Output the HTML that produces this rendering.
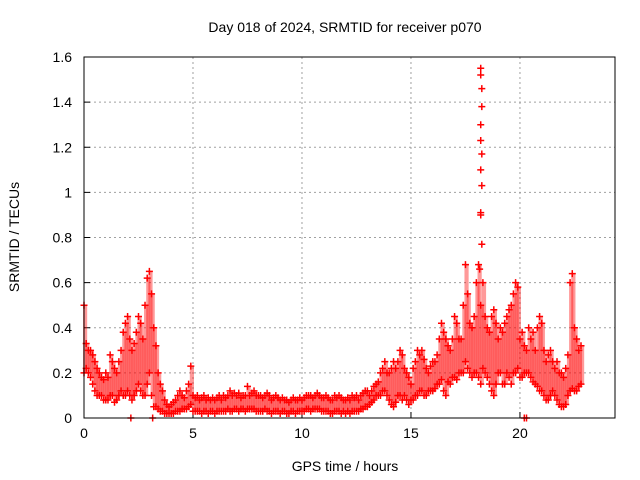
<!DOCTYPE html>
<html><head><meta charset="utf-8"><style>
body{margin:0;background:#fff}
svg{display:block;font-family:"Liberation Sans",sans-serif}
</style></head><body>
<svg id="c" width="640" height="480" xmlns="http://www.w3.org/2000/svg">
<text x="345" y="32" font-size="14" text-anchor="middle">Day 018 of 2024, SRMTID for receiver p070</text>
<text x="345" y="471" font-size="14" text-anchor="middle">GPS time / hours</text>
<text transform="translate(19,237) rotate(-90)" font-size="14" text-anchor="middle">SRMTID / TECUs</text>
<g id="grid"></g>
<g id="ticks"></g>
<g id="marks"></g>
<rect x="84" y="57" width="531" height="361" fill="none" stroke="#000" stroke-width="1"/>
</svg>
<script>
const xTicks=[0,5,10,15,20];
const yTicks=[0,0.2,0.4,0.6,0.8,1,1.2,1.4,1.6];
const yTickLabels=["0","0.2","0.4","0.6","0.8","1","1.2","1.4","1.6"];
const tStart=0, tStep=0.1;
const hiVals=[.5,.33,.3,.3,.28,.25,.22,.2,.18,.17,
.2,.18,.28,.25,.22,.2,.25,.3,.38,.42,
.45,.35,.3,.33,.38,.45,.42,.35,.5,.62,
.65,.55,.4,.32,.2,.15,.12,.08,.06,.05,
.06,.07,.08,.1,.12,.1,.09,.12,.15,.23,
.1,.09,.1,.08,.09,.1,.08,.09,.08,.09,
.08,.09,.1,.08,.1,.09,.1,.12,.1,.11,
.1,.11,.09,.1,.1,.14,.1,.11,.12,.1,
.1,.1,.09,.1,.11,.1,.08,.09,.1,.09,
.08,.09,.08,.08,.07,.08,.09,.08,.08,.09,
.08,.09,.1,.1,.1,.09,.1,.11,.1,.09,
.09,.1,.09,.08,.08,.1,.09,.1,.09,.08,
.08,.09,.08,.1,.09,.1,.08,.1,.11,.12,
.12,.1,.12,.14,.15,.16,.2,.22,.25,.2,
.2,.22,.25,.22,.25,.3,.28,.22,.2,.18,
.15,.22,.25,.3,.28,.3,.26,.22,.2,.23,
.25,.25,.28,.35,.42,.38,.35,.32,.3,.35,
.45,.42,.35,.35,.5,.68,.55,.42,.4,.45,
.6,.68,.5,.6,.45,.4,.38,.45,.48,.42,
.35,.4,.38,.42,.45,.48,.5,.55,.6,.58,
.35,.38,.32,.3,.4,.35,.38,.3,.4,.45,
.42,.3,.25,.28,.3,.25,.22,.25,.2,.2,
.18,.22,.28,.6,.64,.4,.35,.3,.32];
const loVals=[.2,.22,.2,.18,.15,.12,.1,.1,.1,.08,
.08,.08,.1,.1,.07,.08,.1,.12,.1,.1,
.12,.1,.08,.1,.12,.15,.12,.1,.1,.15,
.2,.1,.05,.05,.04,.03,.03,.02,.02,.02,
.02,.02,.03,.03,.03,.04,.04,.04,.05,.06,
.03,.03,.03,.03,.02,.03,.03,.02,.03,.03,
.02,.03,.03,.03,.03,.03,.04,.03,.03,.04,
.04,.03,.04,.04,.03,.04,.04,.04,.04,.03,
.03,.03,.03,.04,.03,.03,.02,.03,.03,.03,
.02,.03,.03,.02,.02,.03,.03,.02,.03,.03,
.03,.03,.04,.04,.03,.04,.04,.04,.04,.03,
.03,.03,.03,.02,.02,.03,.03,.03,.02,.03,
.02,.03,.02,.03,.03,.03,.03,.04,.04,.05,
.05,.06,.07,.08,.1,.1,.1,.12,.12,.1,
.08,.06,.05,.07,.1,.1,.08,.1,.08,.06,
.08,.08,.1,.1,.12,.12,.1,.1,.12,.12,
.12,.13,.15,.15,.17,.12,.1,.16,.15,.18,
.18,.17,.2,.2,.2,.25,.22,.2,.18,.2,
.2,.18,.15,.22,.2,.18,.15,.12,.1,.15,
.2,.2,.15,.15,.2,.18,.15,.2,.2,.22,
.18,.18,.2,.2,.2,.18,.16,.15,.14,.12,
.12,.1,.08,.08,.1,.12,.1,.08,.06,.05,
.05,.06,.1,.12,.13,.12,.12,.14,.15];
const spikeT=[18.2,18.2,18.25,18.25,18.2,18.2,18.25,18.2,18.25,18.2,18.25,18.15,18.2];
const spikeV=[1.55,1.52,1.46,1.38,1.3,1.23,1.17,1.1,1.03,0.9,0.77,0.66,0.91];
const zeroT=[2.15,3.15,20.2,20.3];
const zeroV=[0,0,0,0];

const X0=84,X1=615,Y0=418,Y1=57,XMAX=24.36,YMAX=1.6;
const sx=t=>X0+(t/XMAX)*(X1-X0);
const sy=v=>Y0-(v/YMAX)*(Y0-Y1);
const NS="http://www.w3.org/2000/svg";
function mk(tag,attrs,parent){const e=document.createElementNS(NS,tag);for(const k in attrs)e.setAttribute(k,attrs[k]);parent.appendChild(e);return e;}
const grid=document.getElementById('grid'),ticks=document.getElementById('ticks'),marks=document.getElementById('marks');
xTicks.forEach(t=>{
  const x=sx(t);
  if(t>0){const g=mk('line',{x1:x,x2:x,y1:Y1,y2:Y0,stroke:'#a0a0a0','stroke-dasharray':'2,3'},grid);
  
  }
  const l=mk('line',{x1:x,x2:x,y1:Y0,y2:Y0-6,stroke:'#000'},ticks);
  
  
  const tx=mk('text',{x:x,y:Y0+20,'font-size':14,'text-anchor':'middle'},ticks);tx.textContent=t;
  
  
});
yTicks.forEach((v,i)=>{
  const y=sy(v);
  if(v>0&&v<YMAX){const g=mk('line',{x1:X0,x2:X1,y1:y,y2:y,stroke:'#a0a0a0','stroke-dasharray':'2,3'},grid);
  
  }
  const l=mk('line',{x1:X0,x2:X0+6,y1:y,y2:y,stroke:'#000'},ticks);
  
  
  const tx=mk('text',{x:X0-12,y:y+5,'font-size':14,'text-anchor':'end'},ticks);tx.textContent=yTickLabels[i];
  
  
});
function plus(t,v,col){
  const x=sx(t),y=sy(v);
  const p=mk('path',{d:`M${x-3.5},${y}H${x+3.5}M${x},${y-3.5}V${y+3.5}`,stroke:col,'stroke-width':1.5,fill:'none'},marks);
  
  
}
hiVals.forEach((h,i)=>{
  const t=tStart+i*tStep,l=loVals[i];
  const b=mk('rect',{x:sx(t)-1,y:sy(h),width:(sx(tStep)-sx(0))+2,height:Math.max(0,sy(l)-sy(h)),fill:'#ff0000',opacity:0.4},marks);
  
  
  plus(t,h,'#ff0000');plus(t,l,'#ff0000');
});
spikeT.forEach((t,i)=>plus(t,spikeV[i],'#ff0000'));
zeroT.forEach((t,i)=>plus(t,zeroV[i],'#ff0000'));
</script>
</body></html>
